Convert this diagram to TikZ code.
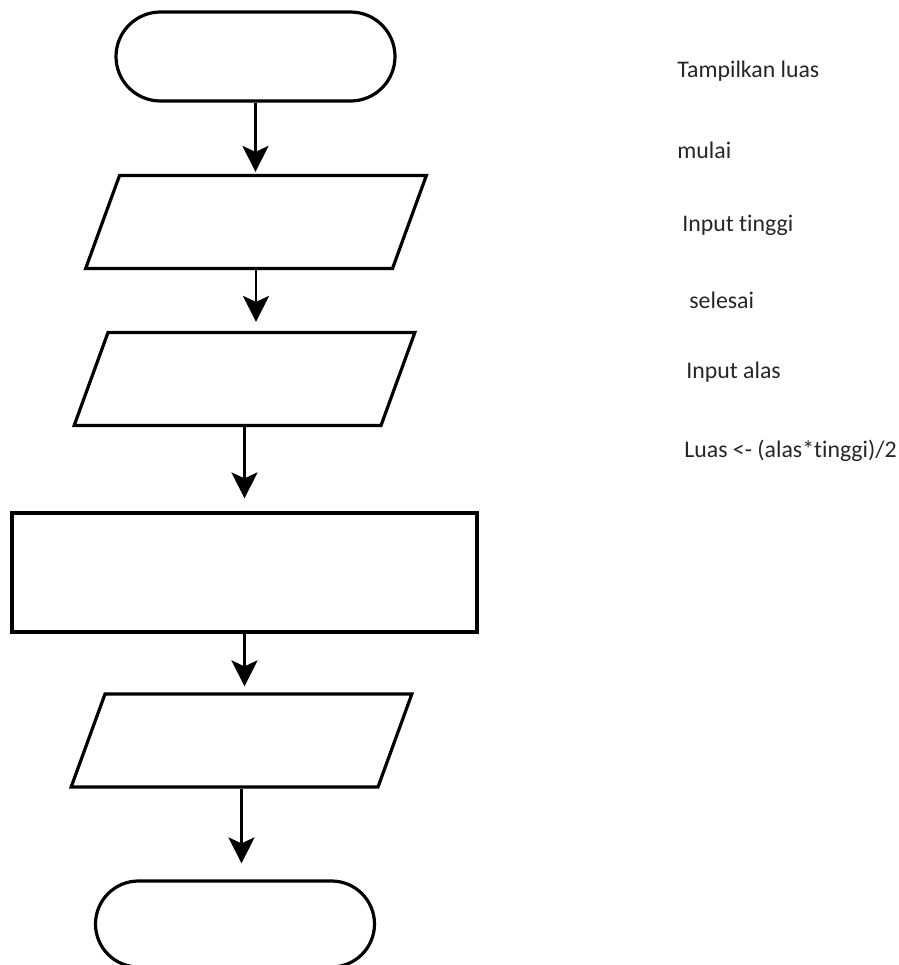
\documentclass[tikz,border=0pt]{standalone}
\usepackage{fontspec}
\setmainfont[Ligatures=NoCommon]{Carlito}
\usetikzlibrary{shapes.geometric,shapes.misc,arrows.meta,positioning}
\tikzset{
  terminal/.style={
      rounded rectangle, draw, line width=1.6pt, inner sep=0pt,
      minimum width=139.5pt, minimum height=44.5pt
    },
  inout/.style={
      trapezium, trapezium left angle=70, trapezium right angle=110,
      draw, line width=1.6pt, inner xsep=68.25pt, inner ysep=23.25pt
    },
  process/.style={
      rectangle, draw, line width=1.6pt, inner sep=0pt,
      minimum width=232.5pt, minimum height=59.5pt
    },
  flow/.style={-{Stealth[length=13pt,width=13pt,inset=3pt]}, line width=1.4pt},
  legend/.style={anchor=base west, inner sep=0pt, text=black!85,
      font=\fontsize{11.9}{14}\selectfont}
}

\begin{document}
\begin{tikzpicture}[x=0.5pt, y=-0.5pt]
  % page of the scan
  \useasboundingbox (0,0) rectangle (899,965);
  \clip (0,0) rectangle (899,965);

  % flowchart shapes
  \node[terminal] (mulai) at (255.5,56.5) {};
  \node[inout] (inAlas) at (256,222) {};
  \node[inout] (inTinggi) at (244.5,379) {};
  \node[process] (hitung) at (244.5,572.5) {};
  \node[inout] (tampil) at (241.5,740.5) {};
  \node[terminal, minimum height=43pt] (selesai) at (235,924) {};

  % arrows between the shapes
  \draw[flow, shorten >=1pt] (mulai.south) -- (mulai.south |- inAlas.north);
  \draw[flow, shorten >=4.5pt] (inAlas.south) -- (inAlas.south |- inTinggi.north);
  \draw[flow, shorten >=6.5pt] (inTinggi.south) -- (inTinggi.south |- hitung.north);
  \draw[flow, shorten >=3pt] (hitung.south) -- (hitung.south |- tampil.north);
  \draw[flow, shorten >=8pt] (tampil.south) -- (tampil.south |- selesai.north);

  % texts for the shapes
  \node[legend] (txtTampil) at (677,77.5) {Tampilkan luas};
  \node[legend] (txtMulai) at (677,158) {mulai};
  \node[legend] (txtTinggi) at (682,231.5) {Input tinggi};
  \node[legend] (txtSelesai) at (689,308) {selesai};
  \node[legend] (txtAlas) at (686,378) {Input alas};
  \node[legend] (txtLuas) at (684,457.5) {Luas <- (alas*tinggi)/2};
\end{tikzpicture}
\end{document}
